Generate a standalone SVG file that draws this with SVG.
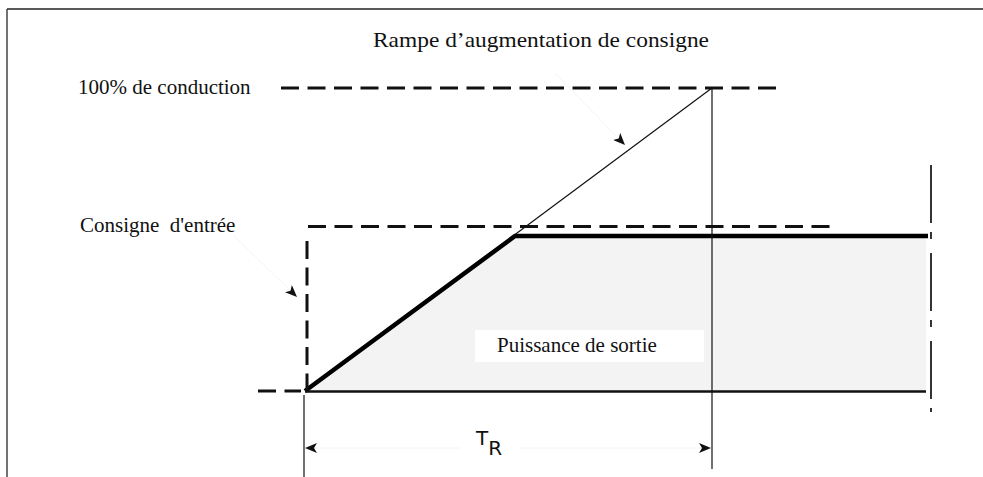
<svg xmlns="http://www.w3.org/2000/svg" width="983" height="477" viewBox="0 0 983 477">
<style>
.lbl{font-family:"Liberation Serif","Times New Roman",serif;font-size:21px;fill:#111}
.sans{font-family:"DejaVu Sans","Liberation Sans",sans-serif;fill:#111}
.dash{stroke:#111;stroke-width:3;stroke-dasharray:18 8.5;fill:none}
.thin{stroke:#111;stroke-width:1.2;fill:none}
.faint{stroke:#f4f4f4;stroke-width:1;fill:none}
</style>
<defs>
<marker id="ah" viewBox="0 0 12 10" refX="12" refY="5" markerWidth="12" markerHeight="10" markerUnits="userSpaceOnUse" orient="auto">
<path d="M0,0 L12,5 L0,10 L3,5 Z" fill="#111"/>
</marker>
</defs>
<g id="frame">
<line x1="7" y1="9" x2="983" y2="9" stroke="#222" stroke-width="1.5"/>
<line x1="7" y1="9" x2="7" y2="477" stroke="#444" stroke-width="1.5"/>
</g>
<g id="output-area">
<polygon points="305,391 515,236 926,236 926,391" fill="#f3f3f3"/>
<polyline points="305,391 515,236 928,236" fill="none" stroke="#000" stroke-width="4.5"/>
<line x1="305" y1="391.5" x2="926" y2="391.5" stroke="#111" stroke-width="2.5"/>
</g>
<g id="connectors">
<line class="dash" x1="281" y1="88" x2="781" y2="88"/>
<line class="dash" x1="308" y1="226.5" x2="832" y2="226.5"/>
<line class="dash" x1="307" y1="241" x2="307" y2="390"/>
<line class="dash" x1="258" y1="391" x2="301" y2="391"/>
<line class="thin" x1="712" y1="88" x2="513" y2="236"/>
<line class="thin" x1="712" y1="88" x2="712" y2="469"/>
<line x1="931" y1="165" x2="931" y2="412" stroke="#333" stroke-width="2" stroke-dasharray="58 9 7 14"/>
<line class="faint" x1="555" y1="73" x2="625" y2="145" marker-end="url(#ah)"/>
<line class="faint" x1="233" y1="235" x2="297" y2="297" marker-end="url(#ah)"/>
<line x1="304" y1="395" x2="304" y2="477" stroke="#111" stroke-width="1.2"/>
<line class="faint" x1="460" y1="448" x2="305" y2="448" marker-end="url(#ah)"/>
<line class="faint" x1="520" y1="448" x2="711" y2="448" marker-end="url(#ah)"/>
</g>
<g id="title"><text class="lbl" x="373" y="47" font-size="22" textLength="336" lengthAdjust="spacingAndGlyphs">Rampe d’augmentation de consigne</text></g>
<g id="label-100"><text class="lbl" x="78" y="94">100% de conduction</text></g>
<g id="label-consigne"><text class="lbl" x="80" y="232" xml:space="preserve">Consigne  d'entrée</text></g>
<g id="label-puissance">
<rect x="475" y="330" width="229" height="32" fill="#fff"/>
<text class="lbl" x="497" y="352">Puissance de sortie</text>
</g>
<g id="label-tr">
<text class="sans" x="476" y="445" font-size="20">T<tspan dy="10">R</tspan></text>
</g>
</svg>
